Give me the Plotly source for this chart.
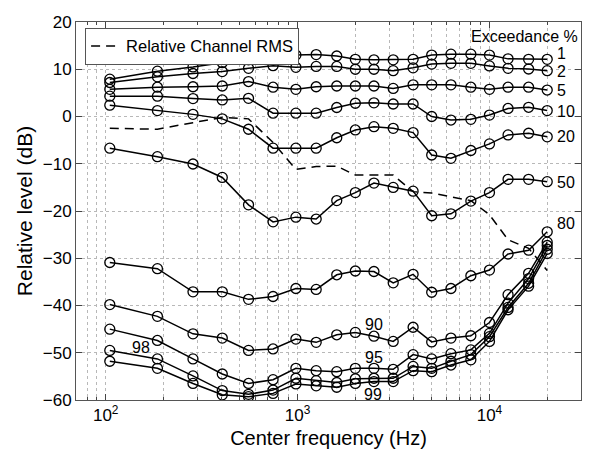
import numpy as np
import plotly.graph_objects as go

freqs = [105, 186, 285, 405, 555, 745, 980, 1250, 1600, 2000, 2500, 3150,
         4000, 5000, 6300, 8000, 10000, 12500, 16000, 20000]

e1 = [7.9, 9.6, 10.5, 11.4, 12.0, 13.0, 13.0, 13.1, 12.8, 12.1, 12.0, 12.0, 12.1, 13.0, 13.2, 13.2, 13.0, 12.2, 12.1, 12.1]
e2 = [7.2, 8.4, 9.1, 9.5, 10.2, 10.75, 10.4, 10.6, 10.6, 10.0, 10.0, 9.7, 10.3, 11.1, 11.25, 11.25, 10.7, 10.2, 10.05, 9.7]
e5 = [5.75, 6.2, 6.3, 6.45, 7.4, 6.2, 5.75, 6.3, 6.45, 6.45, 6.45, 5.95, 6.7, 6.7, 6.7, 6.2, 5.75, 6.2, 6.2, 5.6]
e10 = [4.3, 4.3, 3.8, 3.5, 3.85, 0.7, 0.7, 0.7, 1.9, 2.8, 2.9, 2.65, 2.65, 0.0, -0.75, -0.6, 0.3, 1.7, 1.95, 1.25]
e20 = [2.4, 1.25, 0.45, -0.5, -2.7, -6.7, -6.7, -6.7, -4.5, -2.85, -2.15, -2.5, -3.4, -8.15, -8.85, -7.2, -5.8, -3.9, -3.55, -4.3]
e50 = [-6.7, -8.5, -10.05, -12.9, -18.7, -22.3, -21.3, -21.7, -17.8, -16.1, -14.1, -15.0, -15.8, -21.0, -20.6, -17.9, -16.1, -13.3, -13.3, -13.8]
e80 = [-30.9, -32.2, -37.1, -37.1, -38.7, -38.1, -36.4, -36.6, -33.5, -32.7, -32.8, -35.2, -33.4, -37.2, -36.4, -33.7, -32.5, -29.1, -28.3, -24.4]
e90 = [-39.8, -42.3, -46.0, -46.9, -49.5, -49.2, -47.1, -47.8, -46.2, -45.7, -46.5, -47.6, -44.6, -47.7, -46.9, -46.4, -43.6, -37.7, -33.2, -26.6]
e95 = [-45.0, -47.4, -51.3, -54.5, -56.5, -55.7, -53.3, -53.8, -54.0, -53.3, -53.3, -53.5, -50.4, -51.3, -50.2, -49.4, -45.9, -39.5, -34.3, -27.3]
e98 = [-49.5, -51.3, -54.9, -58.0, -58.8, -57.9, -55.4, -55.9, -56.3, -55.5, -55.4, -55.4, -52.9, -53.3, -51.8, -50.4, -46.6, -40.4, -35.3, -28.1]
e99 = [-51.8, -53.3, -56.5, -58.9, -59.3, -58.6, -56.6, -57.0, -57.3, -56.5, -56.1, -56.1, -53.8, -54.0, -52.6, -51.5, -47.6, -40.9, -35.9, -29.0]

rms = [-2.5, -2.7, -1.3, -0.2, -0.5, -5.5, -11.2, -10.6, -10.5, -12.4, -12.4, -12.4,
       -15.9, -16.2, -17.0, -17.8, -20.8, -26.1, -27.9, -32.6]

curves = [e1, e2, e5, e10, e20, e50, e80, e90, e95, e98, e99]

# label texts and positions (freq Hz, dB)
right_labels = ["1", "2", "5", "10", "20", "50", "80"]
right_label_db = [13.3, 9.5, 5.6, 1.0, -4.3, -13.9, -22.6]
right_label_freq = 22000
inline_labels = ["90", "95", "99", "98"]
inline_label_freq = [2512, 2512, 2460, 153]
inline_label_db = [-44.0, -51.1, -58.8, -48.9]

FONT = "Liberation Sans, Arial, Helvetica, sans-serif"

fig = go.Figure()

fig.add_trace(go.Scatter(
    x=freqs, y=rms, mode="lines", name="Relative Channel RMS",
    line=dict(color="black", width=1.5, dash="9px,6px"), showlegend=True))

for c in curves:
    fig.add_trace(go.Scatter(
        x=freqs, y=c, mode="lines+markers", showlegend=False,
        line=dict(color="black", width=1.5),
        marker=dict(symbol="circle-open", size=10, color="black",
                    line=dict(width=1.3, color="black"))))

annotations = []
for t, yv in zip(right_labels, right_label_db):
    annotations.append(dict(x=np.log10(right_label_freq), y=yv, xref="x", yref="y",
                            text=t, showarrow=False, xanchor="left", yanchor="middle",
                            font=dict(size=16, color="black", family=FONT)))
for t, fx, yv in zip(inline_labels, inline_label_freq, inline_label_db):
    annotations.append(dict(x=np.log10(fx), y=yv, xref="x", yref="y",
                            text=t, showarrow=False, xanchor="center", yanchor="middle",
                            font=dict(size=16, color="black", family=FONT)))
annotations.append(dict(x=np.log10(29500), y=17.0, xref="x", yref="y",
                        text="Exceedance %", showarrow=False, xanchor="right",
                        yanchor="middle", font=dict(size=16, color="black", family=FONT)))

grid_col = "#b8b8b8"
minor_vals = [80, 90] + [k * 100 for k in range(2, 10)] + \
             [k * 1000 for k in range(2, 10)] + [20000]

fig.update_layout(
    width=600, height=464,
    margin=dict(l=76, r=19, t=22, b=64),
    paper_bgcolor="white", plot_bgcolor="white",
    font=dict(family=FONT, size=17, color="black"),
    showlegend=True,
    legend=dict(x=0.018, y=0.985, xanchor="left", yanchor="top",
                bordercolor="#555", borderwidth=1, bgcolor="white",
                font=dict(size=16.5, family=FONT), itemwidth=30,
                tracegroupgap=0),
    annotations=annotations,
)

fig.update_xaxes(
    type="log", range=[np.log10(70), np.log10(30000)],
    tickvals=[100, 1000, 10000],
    ticktext=["10<sup>2</sup>", "10<sup>3</sup>", "10<sup>4</sup>"],
    ticks="inside", ticklen=6, tickcolor="#444",
    showline=True, linecolor="#555", linewidth=1, mirror="ticks",
    showgrid=True, gridcolor=grid_col, griddash="dot", gridwidth=1,
    minor=dict(tickvals=minor_vals, ticks="inside", ticklen=3, tickcolor="#444",
               showgrid=True, gridcolor=grid_col, griddash="dot", gridwidth=1),
    title=dict(text="Center frequency (Hz)", font=dict(size=20, family=FONT), standoff=6),
    tickfont=dict(size=17, family=FONT), zeroline=False, automargin=False,
)
fig.update_yaxes(
    range=[-60, 20], dtick=10, tick0=0,
    ticks="inside", ticklen=6, tickcolor="#444",
    showline=True, linecolor="#555", linewidth=1, mirror="ticks",
    showgrid=True, gridcolor=grid_col, griddash="dot", gridwidth=1,
    zeroline=False, automargin=False,
    title=dict(text="Relative level (dB)", font=dict(size=21, family=FONT), standoff=4),
    tickfont=dict(size=17, family=FONT),
)

fig.write_html("out.html", config={"displayModeBar": False},
               post_script="document.body.style.margin='0px';document.body.style.padding='0px';")
